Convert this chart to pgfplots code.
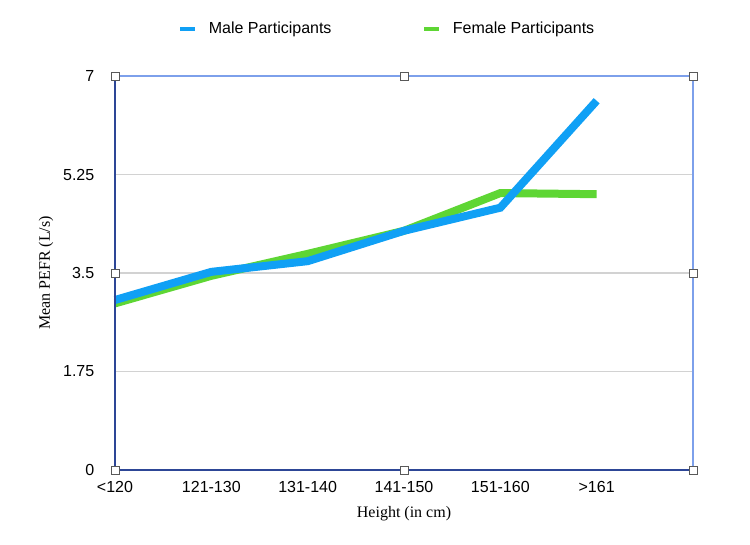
\documentclass[border=0pt]{standalone}
\usepackage{pgfplots}
\pgfplotsset{compat=1.18}
\usepackage{fontspec}
\setmainfont{Liberation Sans}
\newfontfamily\seriffont{Liberation Serif}
\newcommand\fs{\fontsize{12}{14.4}\selectfont}

\definecolor{maleblue}{RGB}{16,160,245}
\definecolor{femgreen}{RGB}{94,214,52}
\definecolor{framedark}{RGB}{45,70,150}
\definecolor{framelight}{RGB}{125,160,235}
\definecolor{gridgray}{RGB}{210,210,210}

\tikzset{handle/.style={draw=gray!70!black, fill=white, minimum size=6pt, inner sep=0pt, line width=0.6pt}}

\begin{document}
\begin{tikzpicture}
\begin{axis}[
    scale only axis,
    width=433.5pt, height=295.5pt,
    clip=false,
    xmin=0, xmax=6,
    ymin=0, ymax=7,
    xtick={0,1,2,3,4,5},
    xticklabels={<120,121-130,131-140,141-150,151-160,>161},
    ytick={0,1.75,3.5,5.25,7},
    yticklabels={0,1.75,3.5,5.25,7},
    /pgf/number format/assume math mode=true,
    major tick length=0pt,
    axis line style={draw=none},
    ymajorgrids,
    grid style={gridgray, line width=0.8pt},
    tick label style={font=\fs},
    xticklabel style={yshift=-5pt},
    yticklabel style={xshift=-12pt},
    xlabel={\seriffont Height (in cm)},
    ylabel={\seriffont Mean PEFR (L/s)},
    label style={font=\fs},
    xlabel style={at={(axis description cs:0.5,-0.1117)}, anchor=center},
    ylabel style={at={(axis description cs:-0.1194,0.5)}, anchor=center},
    legend columns=2,
    legend style={at={(axis description cs:0.4715,1.119)}, anchor=center,
        draw=none, font=\fs,
        /tikz/every odd column/.append style={column sep=6.75pt},
        /tikz/every even column/.append style={column sep=66pt}},
    legend image code/.code={\draw[#1, line width=3pt] (0pt,0pt) -- (11.25pt,0pt);},
]
\addlegendimage{maleblue}
\addlegendimage{femgreen}
\legend{Male Participants, Female Participants}

\addplot[femgreen, line width=6pt, forget plot] coordinates
    {(0,2.96) (1,3.45) (2,3.84) (3,4.25) (4,4.92) (5,4.90)};
\addplot[maleblue, line width=6pt, forget plot] coordinates
    {(0,3.02) (1,3.52) (2,3.71) (3,4.25) (4,4.66) (5,6.56)};

\draw[framelight, line width=0.8pt] (rel axis cs:0,1) -- (rel axis cs:1,1) -- (rel axis cs:1,0);
\draw[framedark, line width=1.6pt] (rel axis cs:0,1) -- (rel axis cs:0,0) -- (rel axis cs:1,0);

% selection handles on the frame
\node[handle] at (rel axis cs:0,0) {};
\node[handle] at (rel axis cs:0.5,0) {};
\node[handle] at (rel axis cs:1,0) {};
\node[handle] at (rel axis cs:0,0.5) {};
\node[handle] at (rel axis cs:1,0.5) {};
\node[handle] at (rel axis cs:0,1) {};
\node[handle] at (rel axis cs:0.5,1) {};
\node[handle] at (rel axis cs:1,1) {};

\coordinate (ll) at (rel axis cs:0,0);
\coordinate (ur) at (rel axis cs:1,1);
\end{axis}
\pgfresetboundingbox
\path[use as bounding box] ([shift={(-86.25pt,-55.5pt)}]ll) rectangle ([shift={(42.75pt,57pt)}]ur);
\end{tikzpicture}
\end{document}
